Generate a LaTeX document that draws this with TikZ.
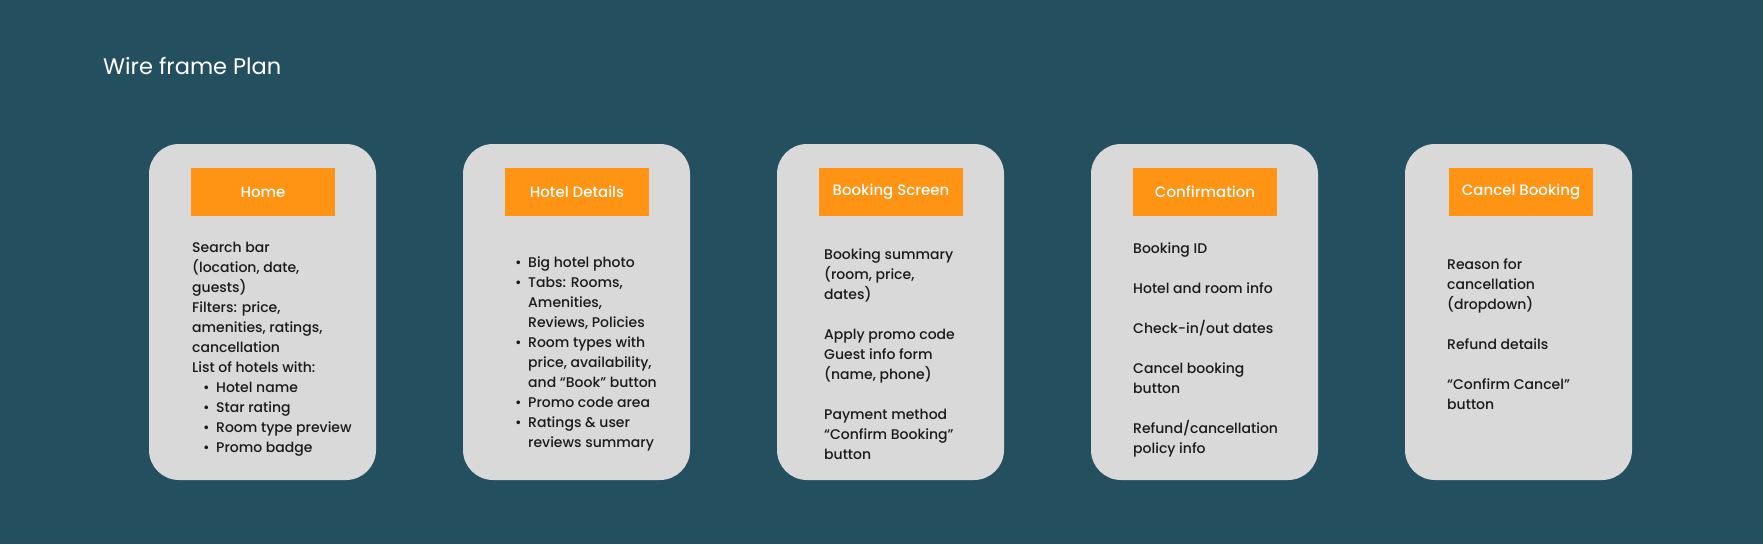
\documentclass[tikz,border=0pt]{standalone}
\usepackage{fontspec}
\setmainfont{Poppins Medium}
\newfontfamily\titlefont{Poppins}
\definecolor{bgc}{HTML}{244F5E}
\definecolor{cardc}{HTML}{D9D9D9}
\definecolor{orangec}{HTML}{FF9314}
\definecolor{txtc}{HTML}{1A1A1A}
\newcommand\bul{\makebox[13pt][l]{\textbullet}}
\newcommand\ind{\hspace*{13pt}}
\tikzset{
  card/.style={draw=none, fill=cardc, rounded corners=30pt},
  header/.style={fill=orangec, minimum width=144pt, minimum height=48pt, inner sep=0pt,
     text=white, font=\fontsize{15}{18}\selectfont},
  body/.style={anchor=base west, inner sep=0pt, text=txtc, font=\fontsize{14}{20}\selectfont}
}
\begin{document}
\begin{tikzpicture}[x=1pt,y=-1pt]
\fill[bgc] (0,0) rectangle (1763,544);
\useasboundingbox (0,0) rectangle (1763,544);
\node[anchor=base west, inner sep=0pt, text=white, font=\titlefont\fontsize{22.5}{28}\selectfont] (title) at (103,74) {Wire frame Plan};

% cards
\foreach \i/\x in {1/149,2/463,3/777,4/1091,5/1405}{
  \fill[card] (\x,144) rectangle ++(227,336);
}
\node[header] (h1) at (263,192) {Home};
\node[header] (h2) at (577,192) {Hotel Details};
\node[header] (h3) at (891,192) {Booking Screen};
\node[header] (h4) at (1205,192) {Confirmation};
\node[header] (h5) at (1521,192) {Cancel Booking};

\node[body] (b1) at (192,252) {\parbox[t]{200pt}{\raggedright
Search bar\\
(location, date,\\
guests)\\
Filters: price,\\
amenities, ratings,\\
cancellation\\
List of hotels with:\\
\hspace*{11pt}\bul Hotel name\\
\hspace*{11pt}\bul Star rating\\
\hspace*{11pt}\bul Room type preview\\
\hspace*{11pt}\bul Promo badge}};

\node[body] (b2) at (515,267) {\parbox[t]{200pt}{\raggedright
\bul Big hotel photo\\
\bul Tabs: Rooms,\\
\ind Amenities,\\
\ind Reviews, Policies\\
\bul Room types with\\
\ind price, availability,\\
\ind and “Book” button\\
\bul Promo code area\\
\bul Ratings \& user\\
\ind reviews summary}};

\node[body] (b3) at (824,259) {\parbox[t]{200pt}{\raggedright
Booking summary\\
(room, price,\\
dates)\\[20pt]
Apply promo code\\
Guest info form\\
(name, phone)\\[20pt]
Payment method\\
“Confirm Booking”\\
button}};

\node[body] (b4) at (1133,253) {\parbox[t]{200pt}{\raggedright
Booking ID\\[20pt]
Hotel and room info\\[20pt]
Check-in/out dates\\[20pt]
Cancel booking\\
button\\[20pt]
Refund/cancellation\\
policy info}};

\node[body] (b5) at (1447,269) {\parbox[t]{200pt}{\raggedright
Reason for\\
cancellation\\
(dropdown)\\[20pt]
Refund details\\[20pt]
“Confirm Cancel”\\
button}};
\end{tikzpicture}
\end{document}
